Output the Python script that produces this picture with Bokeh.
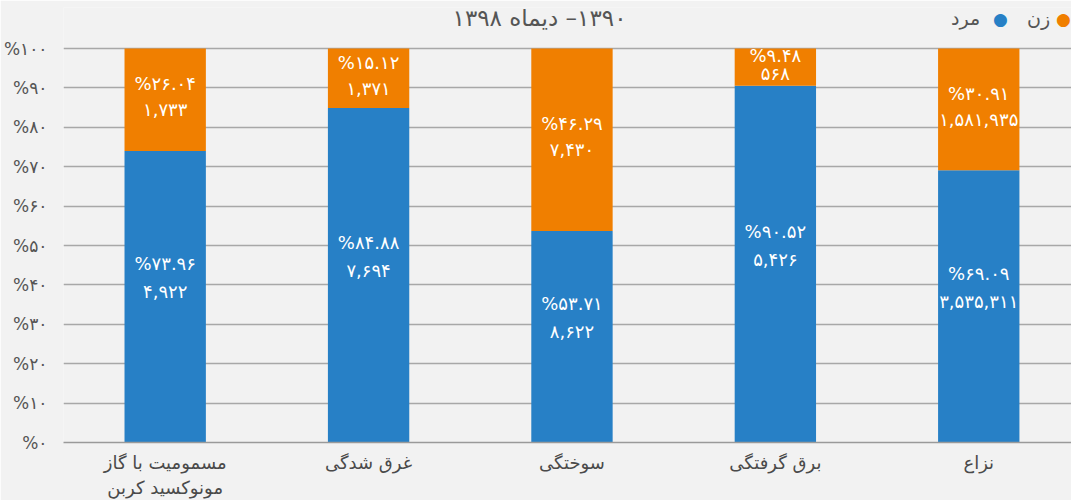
from bokeh.plotting import figure
from bokeh.models import ColumnDataSource, Range1d, FixedTicker, Label
from bokeh.core.properties import value
from bokeh.embed import file_html
from bokeh.resources import INLINE

categories = ["مسمومیت با گاز\nمونوکسید کربن", "غرق شدگی", "سوختگی", "برق گرفتگی", "نزاع"]
men_pct = [73.96, 84.88, 53.71, 90.52, 69.09]
women_pct = [26.04, 15.12, 46.29, 9.48, 30.91]
men_count = [4922, 7694, 8622, 5426, 3535311]
women_count = [1733, 1371, 7430, 568, 1581935]
y_ticks = [0, 10, 20, 30, 40, 50, 60, 70, 80, 90, 100]
series_names = ["مرد", "زن"]
title_text = "\u200f۱۳۹۰– دیماه ۱۳۹۸"

BLUE = "#2780c6"
ORANGE = "#f07f00"
GREY_TEXT = "#555555"
FONT = "DejaVu Sans"

FA = str.maketrans("0123456789", "۰۱۲۳۴۵۶۷۸۹")


def fa(s):
    return str(s).translate(FA)


xs = list(range(len(categories)))
men_mid = [m / 2 for m in men_pct]
women_mid = [m + w / 2 for m, w in zip(men_pct, women_pct)]
half_gap = [13 if w >= 12 else 9 for w in women_pct]

src = ColumnDataSource(dict(
    x=xs, men=men_pct, women=women_pct,
    men_mid=men_mid, women_mid=women_mid,
    men_pct_lbl=["%" + fa(f"{v:.2f}") for v in men_pct],
    men_cnt_lbl=[fa(f"{v:,}") for v in men_count],
    women_pct_lbl=["%" + fa(f"{v:.2f}") for v in women_pct],
    women_cnt_lbl=[fa(f"{v:,}") for v in women_count],
    w_pct_off=[-3 - g for g in half_gap],
    w_cnt_off=[-3 + g for g in half_gap],
))

# frame: page x 65..1073, page y 8..443 (0% at 443, 100% at 49)
FRAME_W, FRAME_H = 1008, 435
PX_PER_Y = 394 / 100.0
X0, X1 = -0.5, 4.456
Y1 = FRAME_H / PX_PER_Y
PX_PER_X = FRAME_W / (X1 - X0)

p = figure(frame_width=FRAME_W, frame_height=FRAME_H,
           x_range=Range1d(X0, X1), y_range=Range1d(0, Y1),
           output_backend="svg", toolbar_location=None,
           min_border_left=57, min_border_right=0, min_border_top=7, min_border_bottom=44)

p.background_fill_color = "#f2f2f2"
p.border_fill_color = "#f2f2f2"
p.outline_line_color = None

p.vbar_stack(["men", "women"], x="x", width=0.4, source=src, color=[BLUE, ORANGE], line_color=None)

common = dict(text_font=value(FONT), text_font_size="18px", text_color="white",
              text_align="center", text_baseline="middle", source=src)
p.text(x="x", y="men_mid", text="men_pct_lbl", y_offset=-33, **common)
p.text(x="x", y="men_mid", text="men_cnt_lbl", y_offset=-5, **common)
p.text(x="x", y="women_mid", text="women_pct_lbl", y_offset="w_pct_off", **common)
p.text(x="x", y="women_mid", text="women_cnt_lbl", y_offset="w_cnt_off", **common)

# axes
p.xaxis.ticker = FixedTicker(ticks=xs)
p.xaxis.major_label_overrides = {i: c for i, c in zip(xs, categories)}
p.xaxis.axis_line_color = "#9a9a9a"
p.xaxis.axis_line_width = 1.5
p.xaxis.major_tick_line_color = None
p.xaxis.minor_tick_line_color = None
p.xaxis.major_label_text_font = FONT
p.xaxis.major_label_text_font_size = "18px"
p.xaxis.major_label_text_color = "#4a4a4a"
p.xaxis.major_label_standoff = 3

p.yaxis.ticker = FixedTicker(ticks=y_ticks)
p.yaxis.major_label_overrides = {t: "%" + fa(t) for t in y_ticks}
p.yaxis.axis_line_color = None
p.yaxis.major_tick_line_color = None
p.yaxis.minor_tick_line_color = None
p.yaxis.major_label_text_font = FONT
p.yaxis.major_label_text_font_size = "17px"
p.yaxis.major_label_text_color = GREY_TEXT
p.yaxis.major_label_standoff = 10

p.xgrid.grid_line_color = None
p.ygrid.grid_line_color = "#a8a8a8"
p.ygrid.grid_line_width = 1.5


def fx(px):
    return X0 + px / PX_PER_X


def fy(px_below_top):
    return Y1 - px_below_top / PX_PER_Y


# title (page y 18)
p.add_layout(Label(x=fx(476), y=fy(10), text=title_text,
                   text_font=FONT, text_font_size="23px", text_color=GREY_TEXT,
                   text_align="center", text_baseline="middle"))

# legend (RTL: dot on the right of each label); centres in frame pixels
leg = [(series_names[0], BLUE, 902, 937), (series_names[1], ORANGE, 975, 1000)]
for name, col, xt, xd in leg:
    p.add_layout(Label(x=fx(xt), y=fy(10), text=name,
                       text_font=FONT, text_font_size="19px", text_color=GREY_TEXT,
                       text_align="center", text_baseline="middle"))
    p.add_layout(Label(x=fx(xd), y=fy(11), text="●",
                       text_font=FONT, text_font_size="17px", text_color=col,
                       text_align="center", text_baseline="middle"))

open("out.html", "w").write(file_html(p, INLINE))
